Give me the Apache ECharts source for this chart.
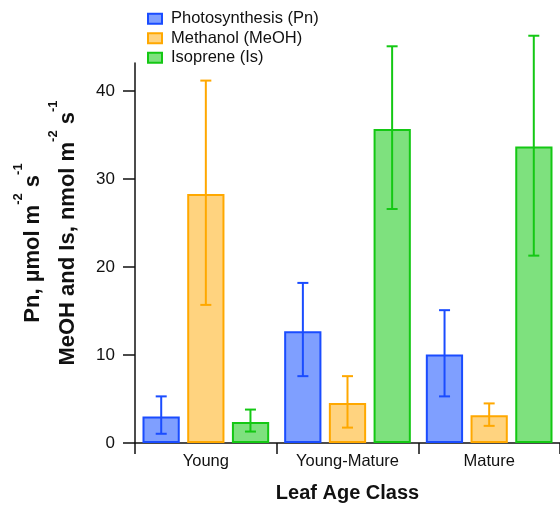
<!DOCTYPE html>
<html>
<head>
<meta charset="utf-8">
<script src="https://cdn.jsdelivr.net/npm/echarts@6/dist/echarts.min.js"></script>
<style>html,body{margin:0;padding:0;background:#fff}#c{width:560px;height:508px}</style>
</head>
<body>
<div id="c"></div>
<script>
var categories = ['Young', 'Young-Mature', 'Mature'];
var seriesNames = ['Photosynthesis (Pn)', 'Methanol (MeOH)', 'Isoprene (Is)'];
var pnValues = [3.0, 12.7, 10.05];
var pnLow = [1.05, 7.6, 5.3];
var pnHigh = [5.3, 18.2, 15.1];
var meohValues = [28.3, 4.55, 3.15];
var meohLow = [15.7, 1.75, 1.95];
var meohHigh = [41.2, 7.6, 4.5];
var isValues = [2.4, 35.7, 33.7];
var isLow = [1.3, 26.6, 21.3];
var isHigh = [3.8, 45.1, 46.3];
var yTicks = [0, 10, 20, 30, 40];

var FONT = "'Liberation Sans', Arial, sans-serif";
var lineColors = ['#1A4CFF', '#FFA800', '#14C814'];
var fillColors = ['rgba(0,64,255,0.5)', 'rgba(255,168,0,0.5)', 'rgba(20,200,20,0.55)'];
var values = [pnValues, meohValues, isValues];
var lows = [pnLow, meohLow, isLow];
var highs = [pnHigh, meohHigh, isHigh];

var chart = echarts.init(document.getElementById('c'), null, {renderer: 'canvas'});

var series = [];
for (var s = 0; s < 3; s++) {
  series.push({
    name: seriesNames[s],
    type: 'bar',
    barWidth: '26.3%',
    barGap: '20%',
    data: values[s],
    itemStyle: {color: fillColors[s], borderColor: lineColors[s], borderWidth: 2},
    z: 2
  });
}
for (var s2 = 0; s2 < 3; s2++) {
  (function (si) {
    var errData = categories.map(function (c, i) { return [i, lows[si][i], highs[si][i]]; });
    series.push({
      type: 'custom',
      name: seriesNames[si] + ' err',
      clip: false,
      z: 5,
      silent: true,
      data: errData,
      encode: {x: 0, y: [1, 2]},
      renderItem: function (params, api) {
        var idx = api.value(0);
        var lo = api.coord([idx, api.value(1)]);
        var hi = api.coord([idx, api.value(2)]);
        var band = api.size([1, 0])[0];
        var off = (si - 1) * band * 0.315;
        var x = lo[0] + off;
        var half = 5.5;
        var st = {stroke: lineColors[si], lineWidth: 2, fill: null};
        return {
          type: 'group',
          children: [
            {type: 'line', shape: {x1: x, y1: lo[1], x2: x, y2: hi[1]}, style: st},
            {type: 'line', shape: {x1: x - half, y1: lo[1], x2: x + half, y2: lo[1]}, style: st},
            {type: 'line', shape: {x1: x - half, y1: hi[1], x2: x + half, y2: hi[1]}, style: st}
          ]
        };
      }
    });
  })(s2);
}

var titleRich = {
  m: {fontSize: 22, fontWeight: 'bold', fontFamily: FONT, lineHeight: 32, verticalAlign: 'bottom', fill: '#111'},
  s: {fontSize: 13, fontWeight: 'bold', fontFamily: FONT, lineHeight: 13, verticalAlign: 'top', fill: '#111'}
};

var option = {
  animation: false,
  backgroundColor: '#fff',
  textStyle: {fontFamily: FONT},
  legend: {
    orient: 'vertical',
    left: 142,
    top: 4,
    icon: 'rect',
    itemWidth: 14,
    itemHeight: 10,
    itemGap: 0,
    data: seriesNames,
    textStyle: {fontSize: 16.5, color: '#111', fontFamily: FONT, lineHeight: 19.5, padding: [0, 0, 0, 4]}
  },
  grid: {left: 135, right: -4, top: 63, bottom: 63, containLabel: false},
  xAxis: {
    type: 'category',
    data: categories,
    name: 'Leaf Age Class',
    nameLocation: 'middle',
    nameGap: 40,
    nameTextStyle: {fontSize: 20, fontWeight: 'bold', color: '#111', fontFamily: FONT},
    axisLine: {lineStyle: {color: '#111', width: 1.5}},
    axisTick: {show: true, length: 11, lineStyle: {color: '#111', width: 1.5}},
    axisLabel: {fontSize: 16.5, color: '#111', margin: 10, fontFamily: FONT}
  },
  yAxis: {
    type: 'value',
    min: 0,
    max: 43.2,
    axisLine: {show: true, lineStyle: {color: '#111', width: 1.5}},
    axisTick: {show: true, length: 12, customValues: yTicks, lineStyle: {color: '#111', width: 1.5}},
    axisLabel: {fontSize: 17, color: '#111', margin: 20, customValues: yTicks, fontFamily: FONT},
    splitLine: {show: false}
  },
  graphic: [
    {
      type: 'text',
      x: 27.6, y: 243,
      rotation: Math.PI / 2,
      style: {
        text: '{m|Pn, µmol m}{s|-2}{m| s}{s|-1}',
        rich: titleRich,
        align: 'center',
        verticalAlign: 'middle'
      }
    },
    {
      type: 'text',
      x: 62.6, y: 233,
      rotation: Math.PI / 2,
      style: {
        text: '{m|MeOH and Is, nmol m}{s|-2}{m| s}{s|-1}',
        rich: titleRich,
        align: 'center',
        verticalAlign: 'middle'
      }
    }
  ],
  series: series
};
chart.setOption(option);
</script>
</body>
</html>
